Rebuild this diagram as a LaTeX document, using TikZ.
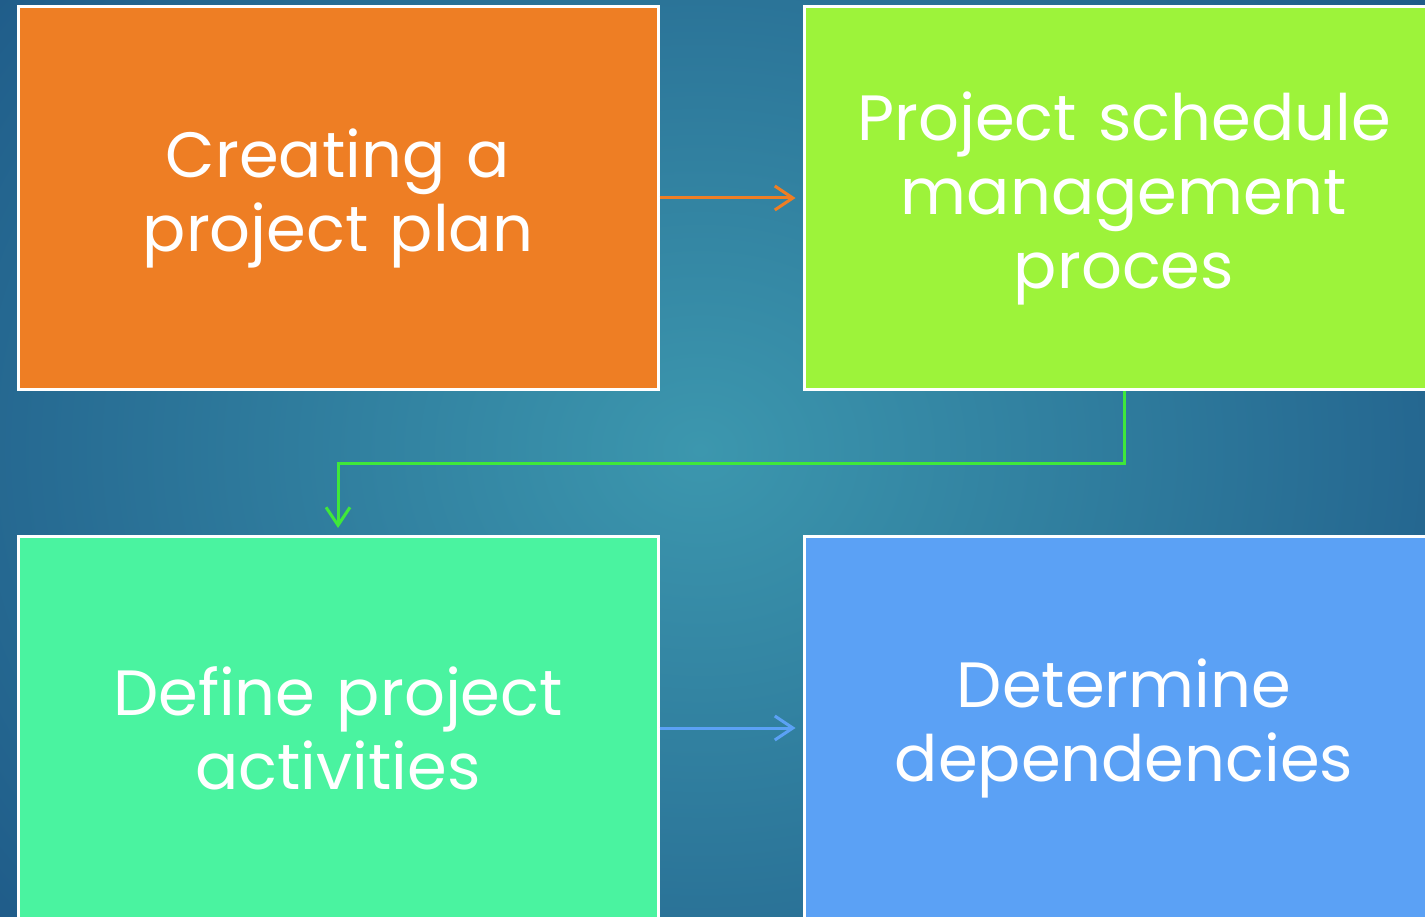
\documentclass[tikz,border=0pt]{standalone}
\usepackage{fontspec}
\setmainfont{Poppins}
\usetikzlibrary{arrows.meta}
\definecolor{bgdark}{HTML}{1C5585}
\definecolor{bglight}{HTML}{3C97AE}
\definecolor{planorange}{HTML}{EE7E24}
\definecolor{schedgreen}{HTML}{9DF33A}
\definecolor{actgreen}{HTML}{4AF3A0}
\definecolor{depblue}{HTML}{5BA1F5}
\definecolor{linkgreen}{HTML}{3FE83A}
\definecolor{linkblue}{HTML}{5BA1F5}
\begin{document}
\begin{tikzpicture}[x=1pt,y=-1pt,
    stepbox/.style={draw=white,line width=3pt,minimum width=640pt,minimum height=383pt,
      text width=610pt,align=center,text=white,font=\fontsize{64}{74}\selectfont},
    link/.style={line width=3pt,-{Straight Barb[length=18pt,width=24pt,line width=3pt]},shorten >=7pt}]
   \useasboundingbox (0,0) rectangle (1425,917);
   \clip (0,0) rectangle (1425,917);
   % background
   \shade[inner color=bglight,outer color=bgdark] (-300,-400) rectangle (1700,1300);
   \node[stepbox,fill=planorange] (plan) at (338,198) {Creating a\\project plan};
   \node[stepbox,fill=schedgreen] (sched) at (1124,198) {Project schedule\\management\\proces};
   \node[stepbox,fill=actgreen] (act) at (338,728) {Define project\\activities};
   \node[stepbox,fill=depblue] (dep) at (1124,728) {Determine\\dependencies};
   % connectors
   \draw[link,planorange] (plan.east) -- (sched.west);
   \coordinate (bend) at (1124,463);
   \draw[link,linkgreen] (sched.south) -- (bend) -| (act.north);
   \draw[link,linkblue] (act.east) -- (dep.west);
\end{tikzpicture}
\end{document}
